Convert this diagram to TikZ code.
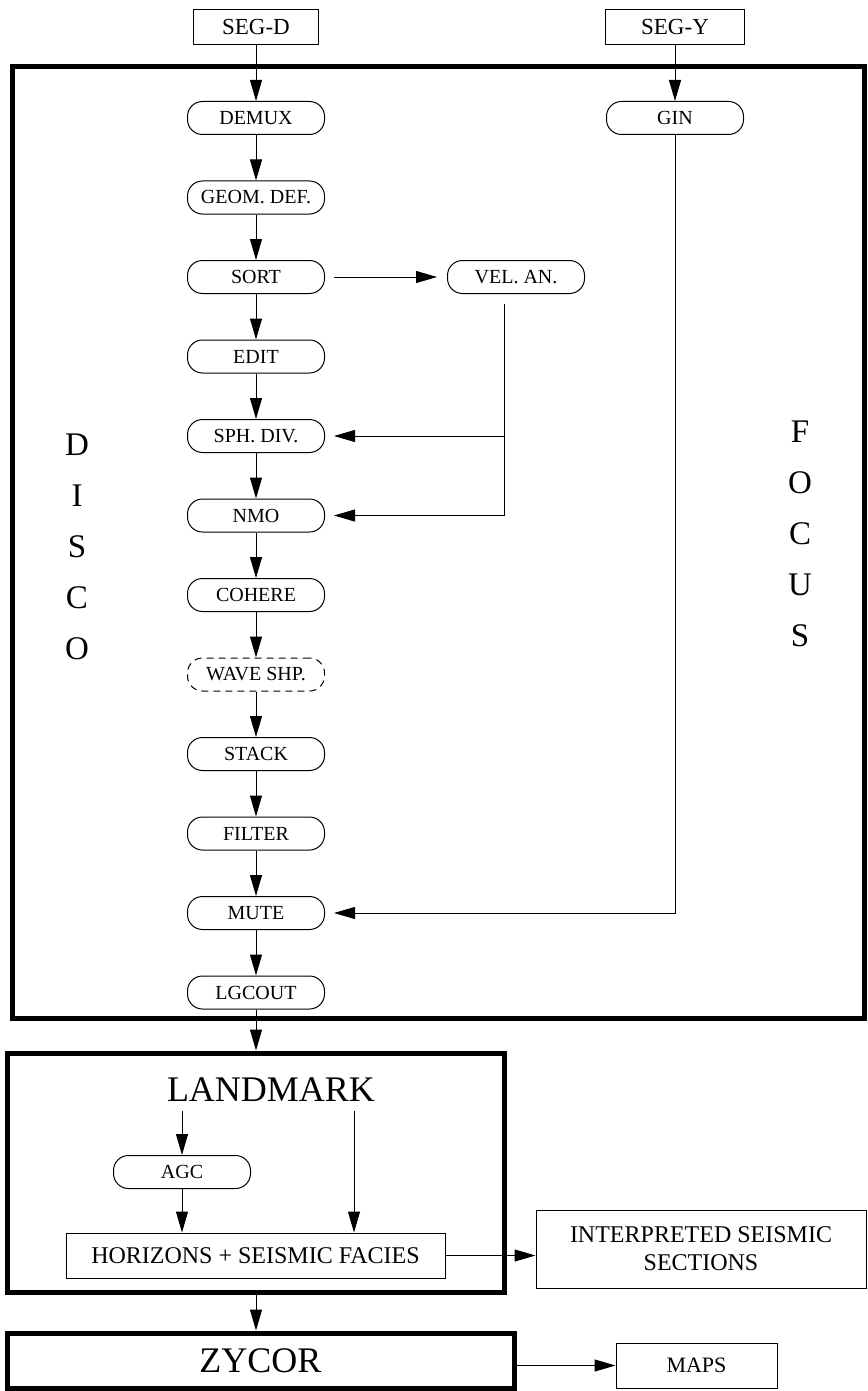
\documentclass[tikz,border=0pt]{standalone}
\usepackage{fontspec}
\setmainfont{Liberation Serif}
\usetikzlibrary{shapes,arrows,arrows.meta,positioning}

\begin{document}
\begin{tikzpicture}[x=1pt, y=-1pt, node distance=45.5pt,
        proc/.style={rectangle, rounded corners=15pt, draw, line width=1pt, minimum width=137pt, minimum height=33pt, inner sep=0pt, font=\fontsize{20}{23}\selectfont},
        dataset/.style={rectangle, draw, line width=1pt, minimum height=35pt, inner sep=0pt, font=\fontsize{23}{27}\selectfont},
        outbox/.style={rectangle, draw, line width=1pt, inner sep=0pt, align=center, font=\fontsize{24}{28}\selectfont},
        frame/.style={rectangle, draw, line width=5pt, inner sep=0pt},
        letter/.style={inner sep=0pt, font=\fontsize{33}{40}\selectfont},
        arrow/.style={-{Triangle[length=21pt,width=12pt]}, line width=1pt}]

        \useasboundingbox (0,0) rectangle (867,1391);

        % inputs and the DISCO / FOCUS frame
        \node[dataset, minimum width=125pt] (segd) at (256,27.5) {SEG-D};
        \node[dataset, minimum width=139pt] (segy) at (675,27.5) {SEG-Y};
        \node[frame, minimum width=852pt, minimum height=951pt] (discoframe) at (438,542.5) {};

        \node[proc] (demux) at (256,118) {DEMUX};
        \node[proc, below=of demux] (geom) {GEOM. DEF.};
        \node[proc, below=of geom] (sort) {SORT};
        \node[proc, below=of sort] (edit) {EDIT};
        \node[proc, below=of edit] (sphdiv) {SPH. DIV.};
        \node[proc, below=of sphdiv] (nmo) {NMO};
        \node[proc, below=of nmo] (cohere) {COHERE};
        \node[proc, dashed, dash pattern=on 7pt off 5pt, below=of cohere] (waveshp) {WAVE SHP.};
        \node[proc, below=of waveshp] (stack) {STACK};
        \node[proc, below=of stack] (filter) {FILTER};
        \node[proc, below=of filter] (mute) {MUTE};
        \node[proc, below=of mute] (lgcout) {LGCOUT};
        \node[proc, right=122pt of sort] (velan) {VEL. AN.};
        \node[proc] (gin) at (675,118) {GIN};

        \foreach \ch [count=\i] in {D,I,S,C,O}
            \node[letter] (disco\i) at (77,394+51*\i) {\ch};
        \foreach \ch [count=\i] in {F,O,C,U,S}
            \node[letter] (focus\i) at (800,381+51*\i) {\ch};

        % LANDMARK and ZYCOR
        \node[frame, minimum width=497pt, minimum height=239pt] (lmframe) at (255.5,1172.5) {};
        \node[inner sep=0pt, font=\fontsize{36}{42}\selectfont] (landmark) at (271,1090) {LANDMARK};
        \node[proc] (agc) at (182,1172) {AGC};
        \node[outbox, minimum width=379pt, minimum height=45pt] (horizons) at (255.5,1255.5) {HORIZONS + SEISMIC FACIES};
        \node[outbox, minimum width=330pt, minimum height=78pt] (interp) at (701,1249) {INTERPRETED SEISMIC\\SECTIONS};
        \node[frame, minimum width=507pt, minimum height=55pt, font=\fontsize{36}{43}\selectfont] (zycor) at (260.5,1360.5) {ZYCOR};
        \node[outbox, minimum width=161pt, minimum height=45pt, font=\fontsize{22}{26}\selectfont] (maps) at (696.5,1365.5) {MAPS};

        \coordinate (veldrop) at ([xshift=-12pt, yshift=-10pt]velan.south);
        \coordinate (lmtop) at ([yshift=-9pt]landmark.south);
        \coordinate (lmright) at ([xshift=83pt]lmtop);

        \draw[arrow] (segd) -- (demux);
        \draw[arrow] (segy) -- (gin);
        \foreach \a/\b in {demux/geom, geom/sort, sort/edit, edit/sphdiv, sphdiv/nmo, nmo/cohere, cohere/waveshp, waveshp/stack, stack/filter, filter/mute, mute/lgcout}
            \draw[arrow] (\a) -- (\b);
        \draw[arrow, shorten <=9pt, shorten >=10pt] (sort) -- (velan);
        \draw[arrow] (veldrop) |- ([xshift=9pt]nmo.east);
        \draw[arrow] (veldrop |- sphdiv.east) -- ([xshift=9pt]sphdiv.east);
        \draw[arrow] (gin) |- ([xshift=9pt]mute.east);

        \draw[arrow] (lgcout) -- (lgcout |- lmframe.north);
        \draw[arrow] (agc |- lmtop) -- (agc);
        \draw[arrow] (lmright) -- (lmright |- horizons.north);
        \draw[arrow] (agc) -- (agc |- horizons.north);
        \draw[arrow] (horizons.east) -- (horizons.east -| interp.west);
        \draw[arrow] (lgcout |- lmframe.south) -- (lgcout |- zycor.north);
        \draw[arrow] (maps.west -| zycor.east) -- (maps.west);
    \end{tikzpicture}
\end{document}
